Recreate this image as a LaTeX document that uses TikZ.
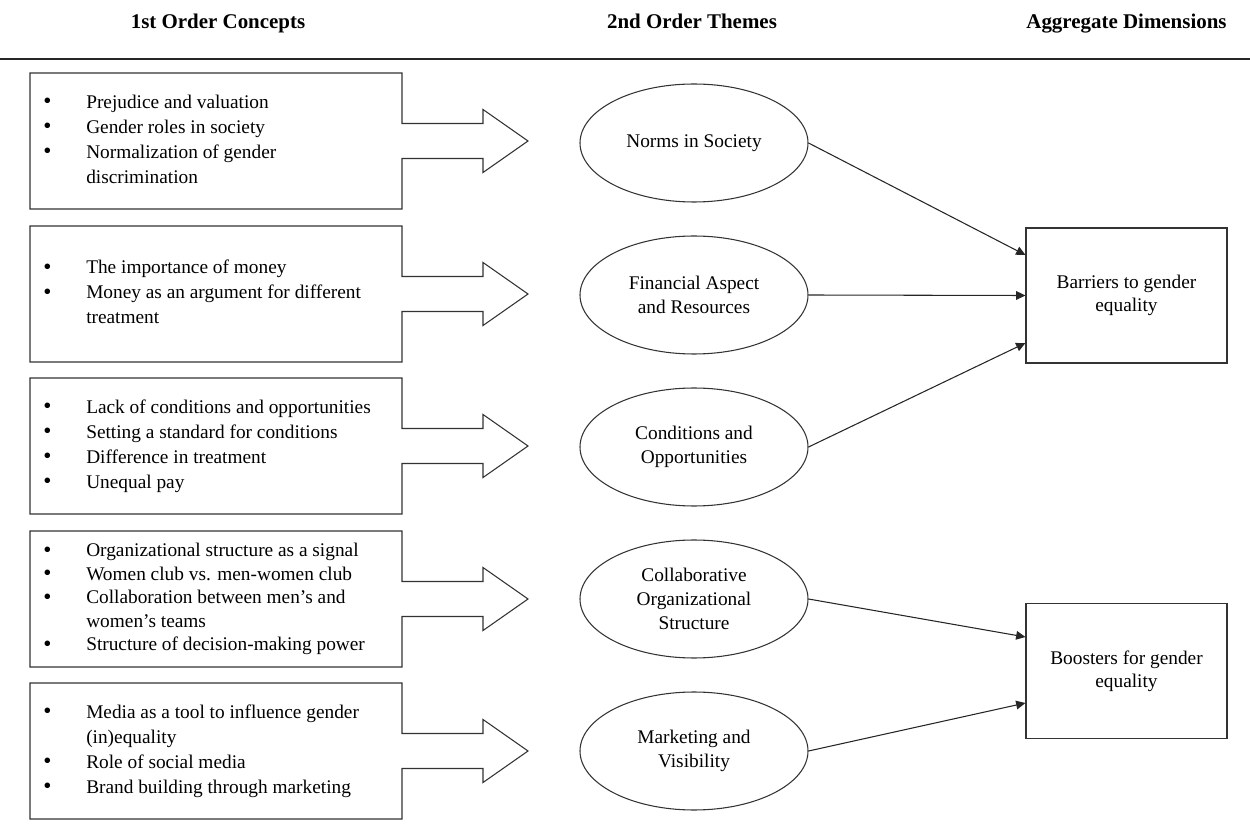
\documentclass[tikz,border=0pt]{standalone}
\usepackage{fontspec}
\setmainfont{Liberation Serif}
\usetikzlibrary{shapes.geometric,arrows.meta,calc}
\newenvironment{blist}[1][1]{\renewcommand\arraystretch{#1}\begin{tabular}{@{}p{32.25pt}@{}l@{}}}{\end{tabular}}
\newcommand\bdot{\raisebox{-0.3pt}{\scalebox{1.2}{\textbullet}}}
\begin{document}
\begin{tikzpicture}[x=0.75pt,y=-0.75pt,
  every node/.style={inner sep=0pt, text=black},
  head/.style={font=\fontsize{15.7pt}{19pt}\selectfont\bfseries, anchor=base},
  items/.style={anchor=west, font=\fontsize{14.5pt}{18.75pt}\selectfont},
  theme/.style={ellipse, draw=black!80, line width=0.8pt, minimum width=171pt, minimum height=88.5pt, align=center, font=\fontsize{14.5pt}{18pt}\selectfont},
  dimbox/.style={rectangle, draw=black!80, line width=0.8pt, minimum width=150.75pt, minimum height=101.25pt, align=center, font=\fontsize{14.5pt}{17pt}\selectfont},
  conn/.style={draw=black!85, line width=0.8pt, -{Triangle[length=7pt,width=6.5pt]}},
  outline/.style={draw=black!80, line width=0.8pt, line join=miter},
  callout/.pic={\draw[outline] (-186,-68) -- (186,-68) -- (186,-17.5) -- (267,-17.5) -- (267,-31.5) -- (312,0) -- (267,31.5) -- (267,17.5) -- (186,17.5) -- (186,68) -- (-186,68) -- cycle;}
]
\useasboundingbox (0,0) rectangle (1250,830);

% headers
\node[head] (h1) at (218,29) {1st Order Concepts};
\node[head] (h2) at (692,29) {2nd Order Themes};
\node[head] (h3) at (1126.5,29) {Aggregate Dimensions};
\draw[line width=1.1pt, black!85] (0,59) -- (1250,59);

% first order concept boxes
\pic at (216,141) {callout};
\pic at (216,294) {callout};
\pic at (216,446) {callout};
\pic at (216,599) {callout};
\pic at (216,751) {callout};

\node[items] (c1) at (43,141) {\begin{blist}
\bdot & Prejudice and valuation\\
\bdot & Gender roles in society\\
\bdot & Normalization of gender\\
 & discrimination
\end{blist}};
\node[items] (c2) at (43,294) {\begin{blist}
\bdot & The importance of money\\
\bdot & Money as an argument for different\\
 & treatment
\end{blist}};
\node[items] (c3) at (43,446) {\begin{blist}
\bdot & Lack of conditions and opportunities\\
\bdot & Setting a standard for conditions\\
\bdot & Difference in treatment\\
\bdot & Unequal pay
\end{blist}};
\node[items] (c4) at (43,599) {\begin{blist}[0.94]
\bdot & Organizational structure as a signal\\
\bdot & Women club vs. men-women club\\
\bdot & Collaboration between men’s and\\
 & women’s teams\\
\bdot & Structure of decision-making power
\end{blist}};
\node[items] (c5) at (43,751) {\begin{blist}
\bdot & Media as a tool to influence gender\\
 & (in)equality\\
\bdot & Role of social media\\
\bdot & Brand building through marketing
\end{blist}};

% second order themes
\node[theme] (e1) at (694,143) {Norms in Society};
\node[theme] (e2) at (694,295) {Financial Aspect\\and Resources};
\node[theme] (e3) at (694,447) {Conditions and\\Opportunities};
\node[theme] (e4) at (694,599) {Collaborative\\Organizational\\Structure};
\node[theme] (e5) at (694,751) {Marketing and\\Visibility};

% aggregate dimensions
\node[dimbox] (d1) at (1126.5,295.5) {Barriers to gender\\equality};
\node[dimbox] (d2) at (1126.5,671) {Boosters for gender\\equality};

% connectors
\draw[conn] (e1.east) -- ($(d1.west)+(0,-40.5)$);
\draw[conn] (e2.east) -- (d1.west);
\draw[conn] (e3.east) -- ($(d1.west)+(0,47.5)$);
\draw[conn] (e4.east) -- ($(d2.west)+(0,-34)$);
\draw[conn] (e5.east) -- ($(d2.west)+(0,32)$);
\end{tikzpicture}
\end{document}
